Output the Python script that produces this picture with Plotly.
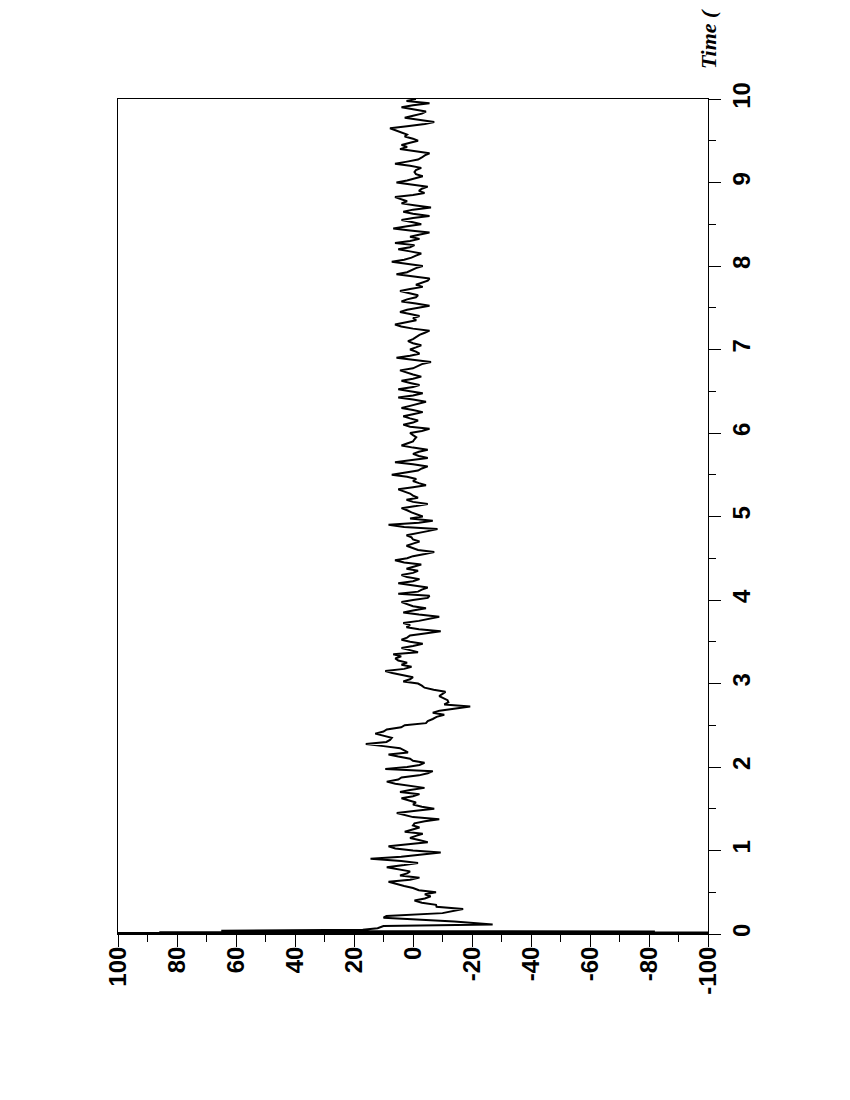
import plotly.graph_objects as go

# start-up transient, read point by point (time in s, value)
start_t = [0, 0.004, 0.008, 0.012, 0.016, 0.022, 0.03, 0.038, 0.05, 0.07,
           0.095, 0.115, 0.15, 0.195, 0.215, 0.25, 0.275]
start_v = [0, 150, -150, 150, -150, 86, -82, 65, 17, 12,
           10, -27, -14, 10, 9, -10, -13]

# rest of the trace, sampled every 0.025 s from the given start time
dt = 0.025
seg_a_t0 = 0.3
seg_a = [-17, -8, -7.8, -3, -0.5, -4, -6, -4, -7.8, -2,
         0, 3, 6, 8.3, 1, -2.2, 4.4, 2, 1, 5,
         8.9, 3, -1.7, 4, 14.4, 4, -3, -9.4, 0, 6,
         8.3, 2, -5, -2, 1, -1, -3.3, 2.8, 0, -2.2,
         0, -0.5, -4, -8.9, 0, 3, 5.5, -1, -7.2, -3,
         0, -1, 2, 3.9, 0, -2.2, 4.4, 1, -3.9, 1,
         6, 8.9, 5, 3.9, -2, -5, -6.7]
seg_b_t0 = 1.975
seg_b = [9.4, 2, -2.2, -3.9, 0, 1, 5, 8.3, 1.7, 3,
         4.4, 10, 16, 9, 7.8, 7.2, 10, 12.8, 10, 8.9,
         4, 2.8, -4.4, -5, -6.7, -8, -10.6, -6.7, -9, -14,
         -19.4, -10.6, -12, -11.7, -10, -8.9, -10, -11, -7, -3.9,
         -3, -1.7, 3.3, 1, 0, 4, 7, 9.4, 3, 0.5,
         3.9, 2, 5, 6, 4, 6.7, -1.7, 1, 3.9, 0,
         -3.3, 1, 3.9, 2, 1, -4, -9.4, -2, 2.2, 1,
         3.3, -2, -6, -8.9, -2, 3.3, 0, -4.4, 0, 2.2,
         3.9, 0]
seg_c_t0 = 4.025
seg_c = [-5, -5.6, 5, -1.7, -3, -5, 1, 5, 0, -2.2,
         2, 3.9, 0, -1.7, 2.2, 0, -2.8, 3, 6.1, 2,
         0, -4, -7.2, -1.7, 0, 2.2, 0, -2.2, 0, 0.5,
         2.2, -2, -5, -8.3, 3, 8.3, -2, -6.7, 1, -3.3,
         -1, 0.5, 2, 3.9, -1, -5, 0, 2.2, -1.7, 0,
         1, 3, 5, 0, -4.4, -2, 0, -1.1, 2, 7.2,
         3, -1.7, -3, -5, 0, 6.1, 1, -5, -2, 0,
         -2, -5, 0, 3.9, 2, 0, -0.5, -1.1, 0, 1]
seg_d_t0 = 6.025
seg_d = [-3, -5.6, 1, 3.3, 0, -1.7, 1, 3.3, 0, -3.3,
         0, 3.9, 1, -2, -4.4, 0, 5, 0, -3.3, 1,
         5, 0, -2.2, 1, 3.9, 0, -2.8, 0, 2, 4.4,
         0, -1.7, -3, -6.1, 0, 5.6, 1, -2.2, -1, 1,
         -1, -2.8, 0, 1.7, 0, -1, -2.2, -4, -5.6, 0,
         4, 6.1, 2, -1.1, 0, -2.2, 1, 4.4, 2, -2,
         -5.6, -1, 3.9, 2, -1, -1.7, 1, 4.4, 1, -3.3,
         -1, -3, -5, -5.6, 0, 5.6, 2, 0.5, -1, -3.3]
seg_e_t0 = 8.025
seg_e = [2, 7.2, 3, 0.5, -1, -2.8, 1, 5, 1, -0.5,
         6.1, 1, -2.2, 1, -2, -5.6, 1, 6.7, 2, -2.8,
         0, 3.9, 0, -5.6, 0, 3.3, 0, -6.1, -1, 3.9,
         2, 4, 6.1, 0, -3.9, -2, -3, -5, 0, 5.6,
         2, -1, -3.3, -1, -0.5, -1, -2.8, 1, 6.1, 2,
         -1.7, -3, -4, -5.6, 0, 4.4, 2, 3.9, 1, -1.7,
         0, 2.8, 2, 4, 6, 7.8, 2, -4, -7.2, -2,
         2.8, 0, -3, -4.4, 0, 3.9, 0, -5.6, 2.2, -1]

value_ticks = [100, 80, 60, 40, 20, 0, -20, -40, -60, -80, -100]
time_ticks = [0, 1, 2, 3, 4, 5, 6, 7, 8, 9, 10]

times = list(start_t)
values = list(start_v)
for t0, seg in [(seg_a_t0, seg_a), (seg_b_t0, seg_b), (seg_c_t0, seg_c),
                (seg_d_t0, seg_d), (seg_e_t0, seg_e)]:
    times += [round(t0 + i * dt, 4) for i in range(len(seg))]
    values += seg

fig = go.Figure()
fig.add_trace(go.Scatter(x=values, y=times, mode="lines",
                         line=dict(color="black", width=2),
                         showlegend=False))

tick_font = dict(family="Liberation Sans, Arial", size=24, color="black", weight="bold")

fig.update_layout(
    width=850, height=1100,
    margin=dict(l=110, r=150, t=91, b=174),
    paper_bgcolor="white", plot_bgcolor="white",
    xaxis=dict(range=[100, -100], tickvals=value_ticks,
               ticktext=[str(v) for v in value_ticks],
               tickangle=-90, tickfont=tick_font, ticklabelstandoff=-10,
               ticks="outside", ticklen=12, tickwidth=1, tickcolor="black",
               minor=dict(dtick=10, ticks="outside", ticklen=7, tickcolor="black"),
               showgrid=False, zeroline=False,
               showline=True, linecolor="black", linewidth=1, mirror=True),
    yaxis=dict(range=[0, 10], side="right", tickvals=time_ticks,
               tickangle=-90, tickfont=tick_font,
               ticks="outside", ticklen=12, tickwidth=1, tickcolor="black",
               minor=dict(dtick=0.5, ticks="outside", ticklen=7, tickcolor="black"),
               showgrid=False, zeroline=False,
               showline=True, linecolor="black", linewidth=1, mirror=True),
)

# only the start of the axis title fits on the page
fig.add_annotation(text="<b><i>Time (</i></b>", textangle=-90,
                   xref="paper", yref="paper", x=1.0, y=1.0335,
                   xanchor="center", yanchor="bottom", showarrow=False,
                   font=dict(family="Liberation Serif, Times New Roman", size=22, color="black"))

fig.write_html("out.html")
